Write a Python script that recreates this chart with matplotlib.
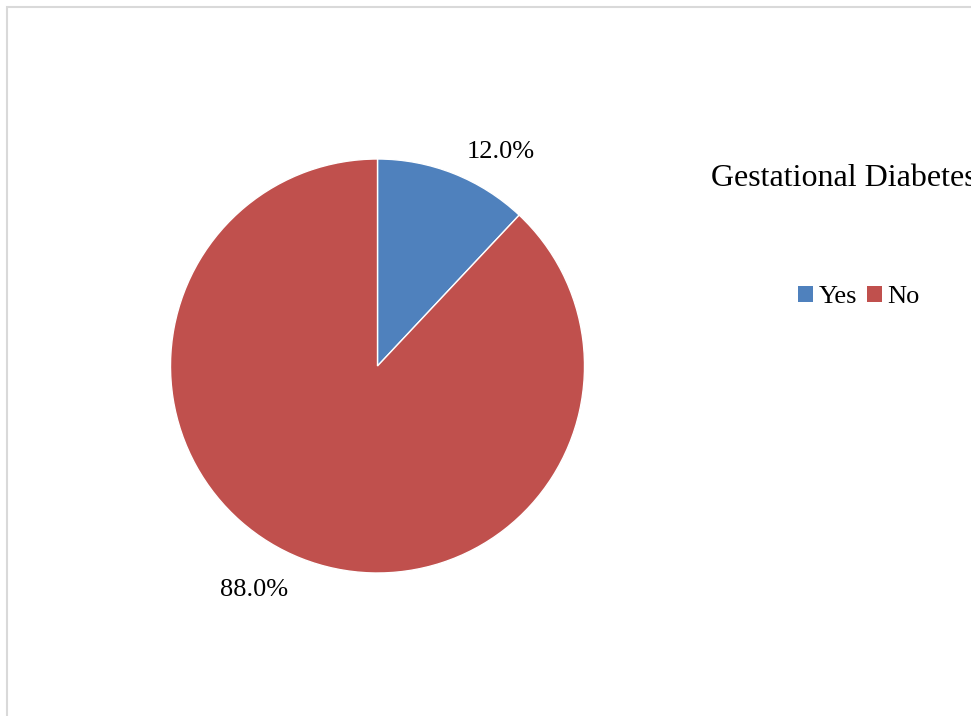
import matplotlib
matplotlib.use("Agg")
import matplotlib.pyplot as plt
from matplotlib.patches import Rectangle

categories = ["Yes", "No"]
shares = [12.0, 88.0]
colors = ["#4F81BD", "#C0504D"]
title = "Gestational Diabetes"

plt.rcParams["font.family"] = ["Liberation Serif", "DejaVu Serif"]

W, H = 971, 716
fig = plt.figure(figsize=(W / 100, H / 100), dpi=100, facecolor="white")

# light chart-area border (runs off the right and bottom edges)
fig.patches.append(Rectangle((6.5 / W, -0.05), 1.2, 1 - 6.5 / H + 0.05,
                             transform=fig.transFigure, fill=False,
                             edgecolor="#d9d9d9", linewidth=1.5))

# pie axes: centre (377.5, 366) px, radius 207 px
cx, cy, r = 377.5, 366, 207
ax = fig.add_axes([(cx - r) / W, 1 - (cy + r) / H, 2 * r / W, 2 * r / H])
wedges, _ = ax.pie(shares, colors=colors, startangle=90, counterclock=False,
                   radius=1, wedgeprops=dict(edgecolor="white", linewidth=1))
ax.set_xlim(-1, 1)
ax.set_ylim(-1, 1)
ax.set_aspect("equal")
ax.axis("off")

# data labels outside the wedges
label_pos = [(0.594, 1.036), (-0.597, -1.08)]
for v, (x, y) in zip(shares, label_pos):
    ax.text(x, y, f"{v:.1f}%", ha="center", va="center", fontsize=19,
            clip_on=False)

fig.text(711 / W, 1 - 186 / H, title, fontsize=23, ha="left",
         va="baseline")

handles = [Rectangle((0, 0), 1, 1, facecolor=c, edgecolor="none") for c in colors]
fig.legend(handles, categories, loc="center", ncol=2,
           bbox_to_anchor=(859 / W, 1 - 297 / H), frameon=False,
           fontsize=19, handlelength=0.55, handleheight=0.55,
           handletextpad=0.2, columnspacing=0.4, borderpad=0)

fig.savefig("out.png", dpi=100, facecolor="white")
